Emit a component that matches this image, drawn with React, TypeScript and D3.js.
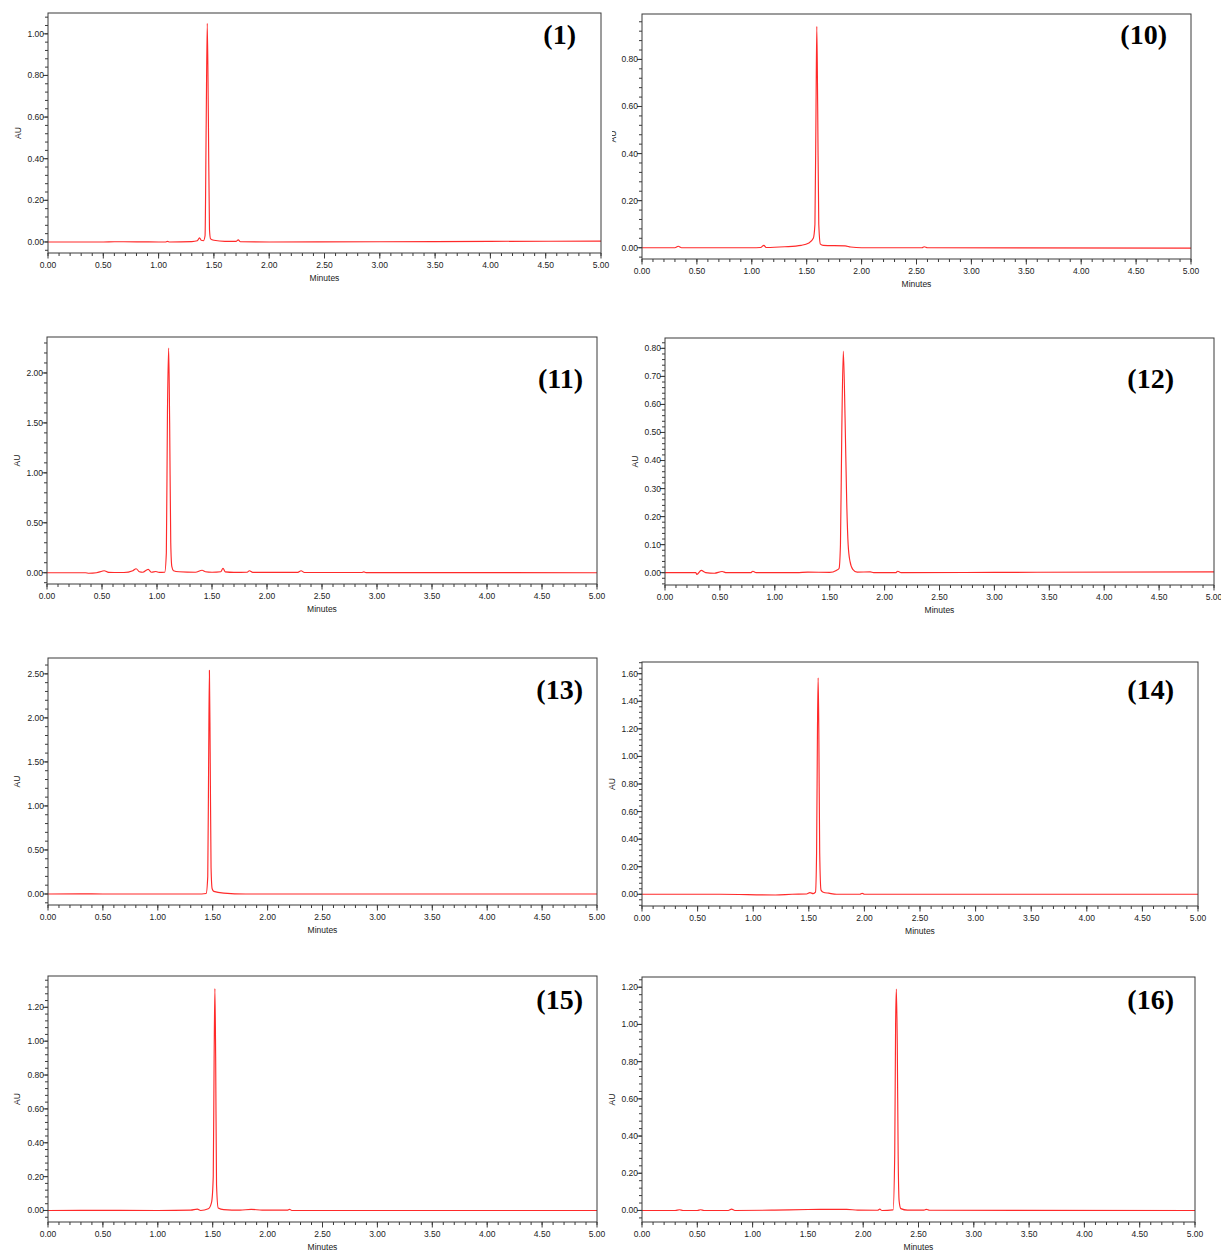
import React from "react";
import * as d3 from "d3";

// ---- data ----
const panelNames = ["(1)", "(10)", "(11)", "(12)", "(13)", "(14)", "(15)", "(16)"];
const xTickValues = [0, 0.5, 1, 1.5, 2, 2.5, 3, 3.5, 4, 4.5, 5];
const xMinorStep = 0.1;

// y axis: [bottom, top], major step, minor step
const yDomains: [number, number][] = [
  [-0.053, 1.1],
  [-0.048, 0.993],
  [-0.113, 2.36],
  [-0.044, 0.837],
  [-0.125, 2.68],
  [-0.085, 1.685],
  [-0.068, 1.385],
  [-0.062, 1.255],
];
const yMajorSteps = [0.2, 0.2, 0.5, 0.1, 0.5, 0.2, 0.2, 0.2];
const yMinorSteps = [0.04, 0.04, 0.1, 0.02, 0.1, 0.04, 0.04, 0.04];
const yMajorMax = [1.0, 0.8, 2.0, 0.8, 2.5, 1.6, 1.2, 1.2];

type Pt = [number, number];
const trace1: Pt[] = [[0,0],[0.5,0],[0.6,0.001],[1.0,0],[1.06,0],[1.08,0.003],[1.1,0],[1.3,0.002],[1.35,0.006],[1.37,0.02],[1.385,0.008],[1.405,0.006],[1.42,0.03],[1.43,0.55],[1.44,1.05],[1.45,0.6],[1.46,0.06],[1.47,0.015],[1.5,0.008],[1.6,0.003],[1.7,0.003],[1.72,0.01],[1.74,0.001],[2.0,0],[3.0,0.001],[4.0,0.003],[5.0,0.004]];
const trace10: Pt[] = [[0,0],[0.3,0],[0.33,0.006],[0.36,0],[1.0,0],[1.08,0.001],[1.11,0.01],[1.13,0.001],[1.3,0.004],[1.45,0.01],[1.52,0.02],[1.56,0.04],[1.575,0.1],[1.585,0.6],[1.592,0.94],[1.6,0.6],[1.61,0.1],[1.625,0.015],[1.65,0.01],[1.85,0.008],[1.9,0.003],[2.0,0],[2.55,0],[2.57,0.004],[2.6,0],[5,-0.002]];
const trace11: Pt[] = [[0,0],[0.35,0],[0.38,-0.005],[0.45,0],[0.5,0.015],[0.52,0.02],[0.56,0.003],[0.7,0.002],[0.78,0.02],[0.81,0.04],[0.84,0.01],[0.87,0.005],[0.92,0.033],[0.95,0.005],[0.99,0.012],[1.02,0.003],[1.07,0.005],[1.085,0.2],[1.095,1.6],[1.106,2.25],[1.115,1.5],[1.125,0.3],[1.135,0.06],[1.15,0.02],[1.2,0.01],[1.35,0.005],[1.41,0.025],[1.44,0.01],[1.5,0.005],[1.58,0.01],[1.6,0.045],[1.62,0.008],[1.7,0.003],[1.82,0.005],[1.84,0.02],[1.87,0.003],[2.28,0.003],[2.31,0.02],[2.34,0.002],[2.86,0.002],[2.88,0.008],[2.9,0.001],[5,0]];
const trace12: Pt[] = [[0,0],[0.28,0],[0.29,-0.006],[0.33,0.008],[0.37,0],[0.45,-0.002],[0.52,0.004],[0.56,0],[0.78,0],[0.8,0.005],[0.83,0],[1.2,0],[1.3,0.002],[1.5,0.001],[1.56,0.008],[1.585,0.015],[1.598,0.1],[1.61,0.5],[1.624,0.79],[1.64,0.55],[1.655,0.25],[1.668,0.1],[1.685,0.04],[1.71,0.012],[1.75,0.002],[1.87,0.003],[1.9,0],[2.1,0],[2.12,0.005],[2.15,0],[3,0.001],[5,0.003]];
const trace13: Pt[] = [[0,0],[0.3,0.002],[0.5,0],[1.0,0],[1.4,0],[1.44,0.005],[1.455,0.2],[1.463,1.5],[1.47,2.54],[1.477,1.6],[1.485,0.3],[1.495,0.06],[1.51,0.03],[1.6,0.01],[1.8,0],[5,0]];
const trace14: Pt[] = [[0,0],[0.7,0],[1.2,-0.005],[1.35,0],[1.48,0.002],[1.51,0.012],[1.54,0.005],[1.56,0.015],[1.57,0.3],[1.578,1.2],[1.584,1.57],[1.59,1.2],[1.598,0.3],[1.61,0.03],[1.63,0.015],[1.68,0.008],[1.75,0],[1.96,0],[1.98,0.007],[2.0,0],[5,0]];
const trace15: Pt[] = [[0,0],[0.3,0.001],[1.0,0],[1.3,0.002],[1.36,0.008],[1.39,0],[1.46,0.01],[1.49,0.05],[1.505,0.2],[1.513,0.9],[1.52,1.31],[1.527,0.9],[1.535,0.15],[1.55,0.015],[1.6,0.005],[1.75,0.002],[1.85,0.007],[1.95,0.002],[2.18,0.002],[2.2,0.007],[2.22,0],[5,0]];
const trace16: Pt[] = [[0,0],[0.3,0],[0.34,0.004],[0.37,0],[0.5,0],[0.53,0.004],[0.56,0],[0.78,0],[0.81,0.007],[0.84,0],[1.2,0.002],[1.5,0.005],[1.85,0.006],[1.95,0.002],[2.13,0.001],[2.15,0.007],[2.17,0],[2.27,0.003],[2.285,0.3],[2.293,1.0],[2.3,1.19],[2.308,0.9],[2.316,0.3],[2.325,0.05],[2.34,0.01],[2.4,0.002],[2.55,0.002],[2.57,0.006],[2.6,0.001],[5,0]];
const traces = [trace1, trace10, trace11, trace12, trace13, trace14, trace15, trace16];

// ---- layout (pixels) ----
type Frame = { l: number; t: number; r: number; b: number; lx: number; ly: number; aux: number; auClip?: number };
const frames: Frame[] = [
  { l: 48, t: 13, r: 601, b: 253, lx: 576, ly: 44, aux: 18 },
  { l: 642, t: 14, r: 1191, b: 259, lx: 1167, ly: 44, aux: 613, auClip: 612 },
  { l: 47, t: 337, r: 597, b: 584, lx: 583, ly: 388, aux: 17 },
  { l: 665, t: 338, r: 1214, b: 585, lx: 1174, ly: 388, aux: 635 },
  { l: 48, t: 658, r: 597, b: 905, lx: 583, ly: 699, aux: 17 },
  { l: 642, t: 662, r: 1198, b: 906, lx: 1174, ly: 699, aux: 612 },
  { l: 48, t: 976, r: 597, b: 1222, lx: 583, ly: 1009, aux: 17 },
  { l: 642, t: 977, r: 1195, b: 1222, lx: 1174, ly: 1009, aux: 612 },
];

const FONT = "'Liberation Sans', Arial, sans-serif";
const AXIS = "#3a3a3a";
const TXT = "#222";
const FS = 8.5;

function Panel({ i }: { i: number }) {
  const f = frames[i];
  const x = d3.scaleLinear().domain([0, 5]).range([f.l, f.r]);
  const y = d3.scaleLinear().domain(yDomains[i]).range([f.b, f.t]);
  const line = d3
    .line<Pt>()
    .x((d) => x(d[0]))
    .y((d) => y(d[1]))
    .curve(d3.curveMonotoneX);

  const [y0, y1] = yDomains[i];
  const ms = yMinorSteps[i];
  const minor: number[] = [];
  for (let k = Math.ceil(y0 / ms); k * ms <= y1; k++) minor.push(+(k * ms).toFixed(4));
  const major: number[] = [];
  for (let k = 0; k * yMajorSteps[i] <= yMajorMax[i] + 1e-9; k++) major.push(+(k * yMajorSteps[i]).toFixed(4));
  const xMinor = d3.range(0, 5 + 1e-9, xMinorStep);
  const midY = (f.t + f.b) / 2;
  const midX = (f.l + f.r) / 2;
  const clipId = `auclip${i}`;

  return (
    <g>
      {f.auClip !== undefined && (
        <clipPath id={clipId}>
          <rect x={f.auClip} y={f.t} width={40} height={f.b - f.t} />
        </clipPath>
      )}
      <path d={line(traces[i]) || ""} fill="none" stroke="#ff2a2a" strokeWidth={1.15} strokeLinejoin="round" />
      <rect x={f.l} y={f.t} width={f.r - f.l} height={f.b - f.t} fill="none" stroke={AXIS} strokeWidth={1} />
      {minor.map((v, k) => (
        <line key={"ym" + k} x1={f.l - 3} x2={f.l} y1={y(v)} y2={y(v)} stroke={AXIS} strokeWidth={1} />
      ))}
      {major.map((v, k) => (
        <g key={"yM" + k}>
          <line x1={f.l - 5} x2={f.l} y1={y(v)} y2={y(v)} stroke={AXIS} strokeWidth={1} />
          <text x={f.l - 4} y={y(v)} dy="0.35em" textAnchor="end" fontSize={FS} fontFamily={FONT} fill={TXT}>
            {v.toFixed(2)}
          </text>
        </g>
      ))}
      {xMinor.map((v, k) => (
        <line key={"xm" + k} x1={x(v)} x2={x(v)} y1={f.b} y2={f.b + 3} stroke={AXIS} strokeWidth={1} />
      ))}
      {xTickValues.map((v, k) => (
        <g key={"xM" + k}>
          <line x1={x(v)} x2={x(v)} y1={f.b} y2={f.b + 5.5} stroke={AXIS} strokeWidth={1} />
          <text x={x(v)} y={f.b + 12} dy="0.35em" textAnchor="middle" fontSize={FS} fontFamily={FONT} fill={TXT}>
            {v.toFixed(2)}
          </text>
        </g>
      ))}
      <text x={midX} y={f.b + 25} dy="0.35em" textAnchor="middle" fontSize={FS} fontFamily={FONT} fill={TXT}>
        Minutes
      </text>
      <g clipPath={f.auClip !== undefined ? `url(#${clipId})` : undefined}>
        <text
          transform={`translate(${f.aux},${midY}) rotate(-90)`}
          dy="0.35em"
          textAnchor="middle"
          fontSize={FS}
          fontFamily={FONT}
          fill={TXT}
        >
          AU
        </text>
      </g>
      <text
        x={f.lx}
        y={f.ly}
        textAnchor="end"
        fontSize={28}
        fontWeight="bold"
        fontFamily="'Liberation Serif', 'Times New Roman', serif"
        fill="#000"
      >
        {panelNames[i]}
      </text>
    </g>
  );
}

export default function App() {
  return (
    <svg width={1221} height={1251} style={{ position: "absolute", left: 0, top: 0, background: "#fff" }}>
      <rect x={0} y={0} width={1221} height={1251} fill="#fff" />
      {panelNames.map((_, i) => (
        <Panel key={i} i={i} />
      ))}
    </svg>
  );
}
